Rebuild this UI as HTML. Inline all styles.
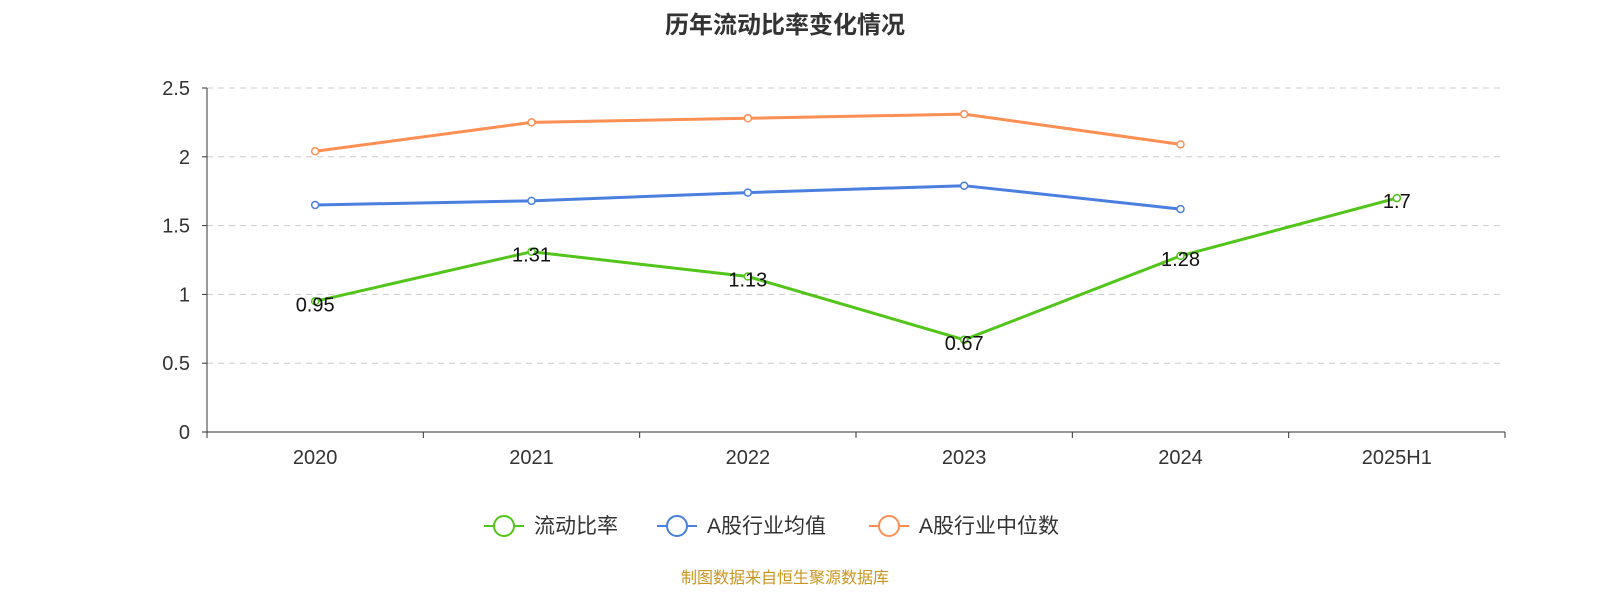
<!DOCTYPE html>
<html><head><meta charset="utf-8"><style>
body{margin:0;background:#fff;width:1600px;height:600px;overflow:hidden}
svg text{font-family:"Liberation Sans","Noto Sans CJK SC",sans-serif}
</style></head><body>
<svg id="chart" width="1600" height="600" xmlns="http://www.w3.org/2000/svg">
<text x="785" y="33" text-anchor="middle" font-size="24" font-weight="bold" fill="#333">历年流动比率变化情况</text>
<g id="grid"></g><g id="axes"></g><g id="series"></g>
<g id="legend"></g>
<text x="785" y="583" text-anchor="middle" font-size="16" fill="#c8961e">制图数据来自恒生聚源数据库</text>
</svg>
<script>
const categories=["2020","2021","2022","2023","2024","2025H1"];
const ratioValues=[0.95,1.31,1.13,0.67,1.28,1.7];
const avgValues=[1.65,1.68,1.74,1.79,1.62,null];
const medianValues=[2.04,2.25,2.28,2.31,2.09,null];
const yTicks=[0,0.5,1,1.5,2,2.5];
const NS="http://www.w3.org/2000/svg";
const x0=207,x1=1505,yb=432,yt=88,yMax=2.5;
const bw=(x1-x0)/categories.length;
const xs=i=>x0+bw*(i+0.5);
const ys=v=>yb-(v/yMax)*(yb-yt);
function mk(tag,attrs,parent,txt){const e=document.createElementNS(NS,tag);for(const k in attrs)e.setAttribute(k,attrs[k]);if(txt!=null)e.textContent=txt;document.getElementById(parent).appendChild(e);return e;}
yTicks.forEach(t=>{
  if(t>0){const g=mk("line",{x1:x0,x2:x1,y1:ys(t),y2:ys(t),stroke:"#ccc","stroke-dasharray":"6,5"},"grid");
  
  }
  const l=mk("text",{x:190,y:ys(t)+7,"text-anchor":"end","font-size":20,fill:"#333"},"axes",String(t));
  
  
  mk("line",{x1:x0-5,x2:x0,y1:ys(t),y2:ys(t),stroke:"#333"},"axes");
});
mk("line",{x1:x0,x2:x0,y1:yt,y2:yb,stroke:"#333"},"axes");
mk("line",{x1:x0,x2:x1,y1:yb,y2:yb,stroke:"#333"},"axes");
for(let i=0;i<=categories.length;i++)mk("line",{x1:x0+bw*i,x2:x0+bw*i,y1:yb,y2:yb+6,stroke:"#333"},"axes");
categories.forEach((c,i)=>{const t=mk("text",{x:xs(i),y:464,"text-anchor":"middle","font-size":20,fill:"#333"},"axes",c);

});
function series(vals,color,name,labels){
  const pts=[];vals.forEach((v,i)=>{if(v!=null)pts.push([xs(i),ys(v),v]);});
  const p=mk("polyline",{points:pts.map(p=>p[0]+","+p[1]).join(" "),fill:"none",stroke:color,"stroke-width":3},"series");
  
  
  pts.forEach(q=>{const c=mk("circle",{cx:q[0],cy:q[1],r:3.5,fill:"#fff",stroke:color,"stroke-width":1.5},"series");
  
  
  if(labels){const t=mk("text",{x:q[0],y:q[1]+10,"text-anchor":"middle","font-size":20,fill:"#111"},"series",String(q[2]));
  
  }});
}
series(medianValues,"#fb8f54","median");
series(avgValues,"#4a7fdf","average");
series(ratioValues,"#52c41a","current-ratio",true);
const leg=[["流动比率","#52c41a",484],["A股行业均值","#4a7fdf",657],["A股行业中位数","#fb8f54",869]];
leg.forEach(l=>{
  mk("line",{x1:l[2],x2:l[2]+40,y1:526,y2:526,stroke:l[1],"stroke-width":2},"legend");
  const c=mk("circle",{cx:l[2]+20,cy:526,r:10,fill:"#fff",stroke:l[1],"stroke-width":2},"legend");
  
  
  const t=mk("text",{x:l[2]+50,y:533,"font-size":21,fill:"#333"},"legend",l[0]);
  
  
});
</script>
</body></html>
